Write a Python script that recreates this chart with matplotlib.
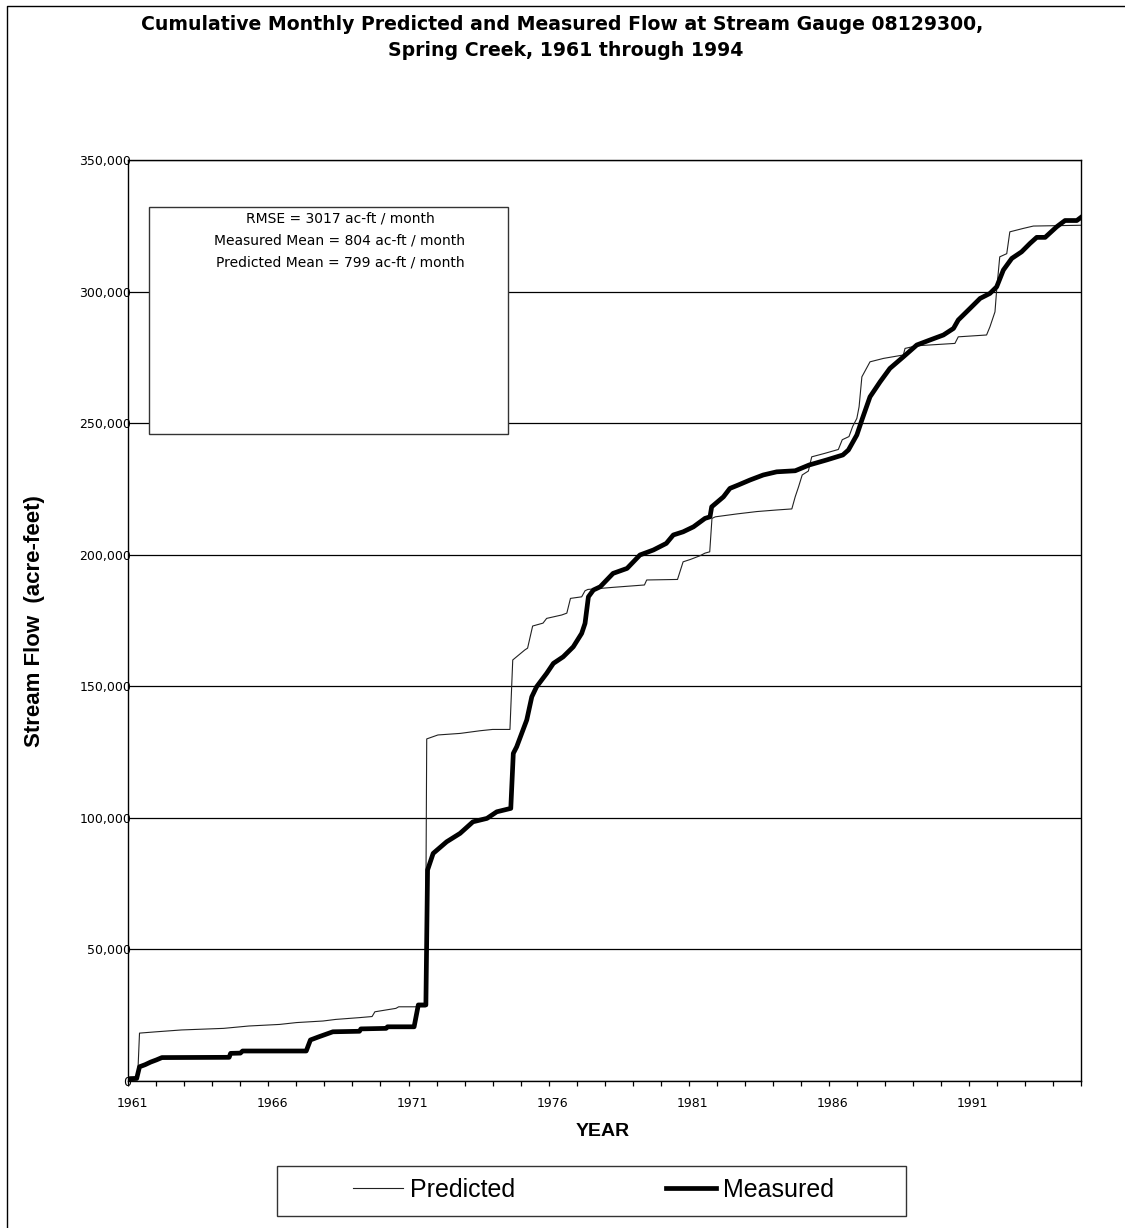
import numpy as np
import matplotlib
matplotlib.use("Agg")
import matplotlib.pyplot as plt
import matplotlib.transforms as mtransforms
from matplotlib.lines import Line2D
from matplotlib.patches import Rectangle
from matplotlib.ticker import FuncFormatter, MultipleLocator

# values (decimal year, cumulative acre-feet)
pred_year = [1961.0, 1961.33, 1961.4, 1962.0, 1962.9, 1964.4, 1965.3, 1966.4, 1967.0,
             1967.95, 1968.4, 1969.27, 1969.7, 1969.8, 1970.2, 1970.55, 1970.65, 1971.6,
             1971.65, 1972.05, 1972.85, 1973.55, 1974.0, 1974.62, 1974.72, 1975.15,
             1975.25, 1975.43, 1975.8, 1975.93, 1976.47, 1976.65, 1976.78, 1977.18,
             1977.3, 1977.4, 1978.3, 1979.42, 1979.5, 1980.6, 1980.8, 1981.06, 1981.4,
             1981.58, 1981.75, 1981.83, 1981.95, 1982.72, 1983.43, 1984.14, 1984.68,
             1984.8, 1984.92, 1985.05, 1985.27, 1985.39, 1985.85, 1986.34, 1986.48,
             1986.72, 1986.85, 1987.0, 1987.08, 1987.18, 1987.47, 1987.95, 1988.66,
             1988.72, 1989.14, 1990.5, 1990.62, 1991.63, 1991.75, 1991.93, 1991.99,
             1992.1, 1992.35, 1992.46, 1992.94, 1993.3, 1995.0]
pred_flow = [0, 500, 18200, 18700, 19400, 20000, 20900, 21500, 22200,
             22800, 23400, 24100, 24500, 26300, 27000, 27600, 28200, 28200,
             130000, 131500, 132100, 133100, 133600, 133600, 160000, 163800,
             164500, 172900, 174000, 175800, 177100, 177800, 183400, 184000,
             186300, 186800, 187600, 188500, 190400, 190600, 197300, 198200, 199600,
             200600, 201100, 213800, 214400, 215500, 216400, 217000, 217400,
             222000, 225800, 230300, 231800, 237200, 238500, 240000, 243700,
             244900, 248700, 251800, 256200, 267600, 273300, 274600, 275900,
             278400, 279400, 280300, 282800, 283500, 286600, 292300, 300600,
             313200, 314400, 322700, 324000, 324900, 325200]

meas_year = [1961.0, 1961.05, 1961.3, 1961.4, 1961.6, 1961.8, 1962.0, 1962.2, 1964.6,
             1964.65, 1965.0, 1965.08, 1967.35, 1967.5, 1967.8, 1968.3, 1969.25, 1969.3,
             1970.2, 1970.25, 1971.2, 1971.35, 1971.62, 1971.68, 1971.88, 1972.36,
             1972.84, 1973.3, 1973.8, 1974.15, 1974.65, 1974.74, 1974.86, 1975.22,
             1975.4, 1975.57, 1975.93, 1976.17, 1976.52, 1976.88, 1977.18, 1977.3,
             1977.42, 1977.6, 1977.84, 1978.3, 1978.8, 1979.26, 1979.74, 1980.2,
             1980.45, 1980.8, 1981.17, 1981.58, 1981.76, 1981.82, 1982.24, 1982.47,
             1982.77, 1983.19, 1983.66, 1984.14, 1984.8, 1985.3, 1985.92, 1986.5,
             1986.7, 1987.0, 1987.18, 1987.47, 1987.83, 1988.18, 1988.66, 1989.14,
             1989.61, 1990.09, 1990.45, 1990.62, 1991.04, 1991.4, 1991.75, 1991.99,
             1992.23, 1992.53, 1992.88, 1993.18, 1993.42, 1993.72, 1994.13, 1994.43,
             1994.85, 1995.0]
meas_flow = [0, 900, 1000, 5400, 6200, 7200, 8000, 8900, 9000,
             10500, 10600, 11400, 11400, 15600, 16800, 18700, 18900, 19800,
             20000, 20600, 20600, 28900, 28900, 80200, 86500, 90900,
             94100, 98500, 99800, 102300, 103600, 124500, 127000, 137200,
             146000, 149800, 154900, 158700, 161200, 165000, 170100, 173900,
             184000, 186600, 187800, 192900, 194800, 199900, 201800, 204300,
             207500, 208700, 210600, 213800, 214400, 218200, 222000, 225200,
             226500, 228400, 230300, 231500, 231900, 234100, 236000, 237900,
             239800, 245500, 251200, 260000, 265700, 270800, 275200, 279700,
             281600, 283500, 286000, 289200, 293600, 297400, 299300, 301800,
             308200, 312600, 315100, 318300, 320600, 320600, 324600, 327000,
             327000, 328200]

year_labels = list(range(1961, 1995, 5))
stats_lines = ["RMSE = 3017 ac-ft / month",
               "Measured Mean = 804 ac-ft / month",
               "Predicted Mean = 799 ac-ft / month"]

W, H = 1125, 1228
fig = plt.figure(figsize=(W / 100, H / 100), dpi=100)


def fx(px):
    return px / W


def fy(py):
    return 1 - py / H


ax = fig.add_axes([fx(128.3), fy(1081), fx(1081) - fx(128.3), fy(160) - fy(1081)])

ax.plot(pred_year, pred_flow, color="#222222", lw=0.8, label="Predicted", zorder=3)
ax.plot(meas_year, meas_flow, color="black", lw=3.4, label="Measured", zorder=4,
        solid_joinstyle="round")

ax.set_xlim(1961, 1995)
ax.set_ylim(0, 350000)
ax.yaxis.set_major_locator(MultipleLocator(50000))
ax.yaxis.set_major_formatter(FuncFormatter(lambda v, p: f"{int(v):,}"))
ax.set_xticks(year_labels)
ax.set_xticks(np.arange(1961, 1996), minor=True)
ax.set_xticklabels([str(y) for y in year_labels])
ax.grid(axis="y", color="black", lw=0.9)
ax.set_axisbelow(True)
for s in ax.spines.values():
    s.set_linewidth(1.0)
ax.tick_params(axis="x", which="both", direction="out", length=3.7, width=0.9,
               pad=8.0, labelsize=9)
ax.tick_params(axis="y", length=0, pad=-2, labelsize=9)

# year labels sit a few pixels right of their ticks in the original
shift = mtransforms.ScaledTranslation(0.04, 0, fig.dpi_scale_trans)
for lab in ax.get_xticklabels():
    lab.set_transform(lab.get_transform() + shift)

# stats box
fig.patches.append(Rectangle((fx(149), fy(434)), fx(508) - fx(149), fy(207) - fy(434),
                             transform=fig.transFigure, facecolor="white",
                             edgecolor="#333333", lw=1.0, zorder=5))
for i, line in enumerate(stats_lines):
    fig.text(fx(340), fy(218 + 22 * i), line, ha="center", va="center",
             fontsize=10, family="DejaVu Sans", zorder=6)

# titles
fig.text(fx(562), fy(29.5), "Cumulative Monthly Predicted and Measured Flow at Stream Gauge 08129300,",
         ha="center", va="baseline", fontsize=13.6, fontweight="bold", family="DejaVu Sans")
fig.text(fx(566), fy(56), "Spring Creek, 1961 through 1994",
         ha="center", va="baseline", fontsize=13.6, fontweight="bold", family="DejaVu Sans")
fig.text(fx(35), fy(621), "Stream Flow  (acre-feet)", rotation=90, ha="center", va="center",
         fontsize=16, fontweight="bold", family="Liberation Sans")
fig.text(fx(603), fy(1132), "YEAR", ha="center", va="center",
         fontsize=14, fontweight="bold", family="Liberation Sans")

# legend
leg = fig.legend(loc="center", bbox_to_anchor=(fx(593.5), fy(1190)), ncol=2,
                 frameon=False, prop={"family": "Liberation Sans", "size": 18},
                 handlelength=2.0, handletextpad=0.28, columnspacing=6.0)
fig.patches.append(Rectangle((fx(277), fy(1216)), fx(906) - fx(277), fy(1166) - fy(1216),
                             transform=fig.transFigure, facecolor="none",
                             edgecolor="#333333", lw=1.0))

# outer frame (left and top edges only)
fig.lines.append(Line2D([fx(7), fx(7), fx(1125)], [fy(1228), fy(6), fy(6)],
                        transform=fig.transFigure, color="black", lw=1.0))

fig.savefig("out.png", dpi=100)
